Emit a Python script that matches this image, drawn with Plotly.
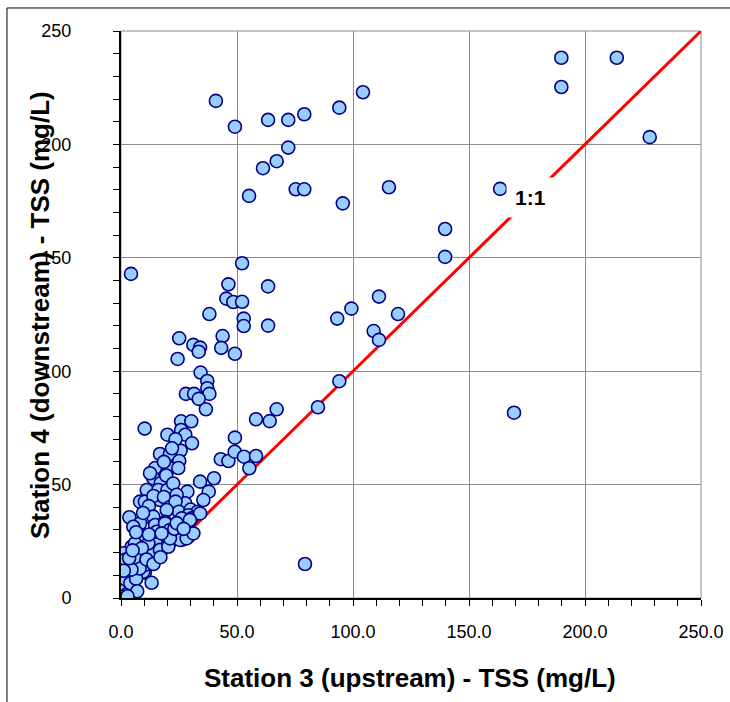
import plotly.graph_objects as go

# Station 3 (upstream) TSS, mg/L
station3 = [
    40.9, 49.1, 63.4, 72.1, 79.0, 94.1, 104.3, 72.1, 67.1, 61.2, 55.2, 75.3, 79.0, 95.6, 115.5,
    139.7, 139.7, 163.4, 189.8, 189.8, 213.7, 227.9, 169.4, 79.3, 4.3,
    52.2, 46.3, 45.4, 48.4, 52.2, 63.4, 38.1, 52.9, 52.9, 63.4, 43.8, 43.2, 49.1, 25.1, 31.2,
    34.1, 33.5, 24.4, 34.3, 37.2, 37.2, 38.1, 28.0, 31.5, 33.5, 36.6, 67.1, 58.2, 64.1, 84.9,
    94.1, 93.2, 99.3, 111.2, 108.9, 111.2, 119.4, 49.1,
    10.2, 20.0, 25.9, 30.3, 25.9, 27.7, 30.6, 25.7, 16.8, 21.1, 25.1, 14.7, 20.8, 24.7, 13.9,
    17.1, 11.1, 16.1, 20.0, 8.2, 10.3, 16.8, 28.6, 34.1, 40.1, 37.8, 35.5, 27.7, 43.0, 46.3,
    49.0, 53.0, 58.2, 55.3,
    23.5, 22.0, 18.5, 12.5, 19.5, 22.5, 14.0, 18.5, 24.0, 12.0, 21.0, 23.5, 25.0, 30.0, 33.0, 29.0,
    3.6, 26.2, 30.4, 19.7, 11.1, 13.9, 8.2, 5.3, 14.7, 19.0, 8.9, 19.4, 26.2, 29.0, 16.1, 20.4,
    12.5, 4.6, 7.5, 1.0, 2.5, 3.9, 10.3, 13.2, 5.3, 9.6, 5.3, 7.5, 3.1, 10.3, 13.9, 16.8, 20.4,
    25.4, 28.3, 31.2, 34.1, 29.7, 15.4, 19.0, 21.1, 6.0, 11.8, 21.1, 0.3, 1.0, 0.5, 1.5, 2.0,
    0.8, 2.2, 3.0, 4.0, 6.5, 8.0, 6.0, 9.0, 11.0, 14.0, 17.0, 12.0, 17.5, 23.0, 9.5, 6.5, 24.0,
    27.0, 2.0, 4.5, 7.0, 1.2, 3.5, 5.0, 0.5, 2.8,
]

# Station 4 (downstream) TSS, mg/L
station4 = [
    219.2, 207.8, 210.8, 210.8, 213.3, 216.2, 223.0, 198.6, 192.6, 189.5, 177.3, 180.2, 180.2, 174.0, 181.1,
    162.7, 150.4, 180.4, 238.2, 225.3, 238.2, 203.2, 81.7, 15.0, 142.9,
    147.6, 138.3, 132.0, 130.5, 130.6, 137.4, 125.2, 123.2, 119.9, 120.1, 115.5, 110.3, 107.7, 114.5, 111.6,
    110.4, 108.6, 105.4, 99.4, 95.7, 92.5, 90.0, 90.0, 90.0, 87.8, 83.2, 83.2, 78.8, 78.0, 84.1,
    95.6, 123.2, 127.6, 132.9, 117.7, 113.8, 125.2, 70.7,
    74.7, 72.0, 77.9, 77.9, 74.1, 72.0, 68.2, 65.0, 63.5, 63.5, 60.4, 57.3, 57.3, 57.3, 52.8,
    50.6, 47.6, 47.6, 47.6, 42.5, 42.5, 43.2, 46.9, 51.3, 52.8, 46.9, 43.2, 41.8, 61.2, 60.4,
    64.5, 62.3, 62.6, 57.2,
    70.0, 66.0, 60.0, 55.0, 54.0, 50.5, 45.0, 44.5, 45.5, 40.5, 40.0, 42.5, 38.0, 39.0, 38.0, 36.5,
    35.6, 35.1, 35.1, 38.8, 35.9, 35.9, 32.9, 31.4, 32.2, 33.6, 27.8, 27.8, 25.6, 27.0, 24.1, 24.1,
    19.0, 22.6, 20.4, 19.7, 14.6, 10.9, 11.2, 6.7, 3.5, 11.6, 5.0, 16.0, 13.8, 14.6, 19.7, 21.2, 22.6,
    25.6, 26.3, 28.5, 37.3, 34.4, 29.2, 32.9, 30.0, 24.1, 24.1, 26.3, 7.9, 2.8, 5.0, 1.5, 4.0,
    10.0, 8.0, 2.0, 6.5, 8.5, 13.0, 18.0, 22.0, 17.0, 15.0, 18.0, 28.0, 28.5, 30.5, 37.5, 29.0, 33.0,
    30.5, 17.0, 12.5, 3.0, 12.0, 17.5, 21.0, 0.5, 0.8,
]

one_to_one = [0, 250]
x_ticks = [0, 50, 100, 150, 200, 250]
x_tick_labels = ["0.0", "50.0", "100.0", "150.0", "200.0", "250.0"]
y_ticks = [0, 50, 100, 150, 200, 250]
y_tick_labels = ["0", "50", "100", "150", "200", "250"]

FONT = "Liberation Sans, Arial, sans-serif"

fig = go.Figure()
fig.add_trace(go.Scatter(
    x=one_to_one, y=one_to_one, mode="lines",
    line=dict(color="#FF0000", width=3), hoverinfo="skip", showlegend=False,
))
fig.add_trace(go.Scatter(
    x=station3, y=station4, mode="markers",
    marker=dict(size=13, color="#99CCFF", line=dict(color="#000080", width=1.6)),
    showlegend=False,
))

axis_common = dict(
    range=[0, 250], showgrid=True, gridcolor="#8C8C8C", gridwidth=1,
    showline=True, linecolor="black", linewidth=2, zeroline=False,
    ticks="outside", ticklen=6, tickwidth=1, tickcolor="black",
    minor=dict(ticks="outside", ticklen=6, tickwidth=1, tickcolor="black", dtick=10, showgrid=False),
    tickfont=dict(family=FONT, size=18, color="black"),
    ticklabeloverflow="allow",
    automargin=False,
    fixedrange=True,
)

fig.update_layout(
    width=730, height=702,
    margin=dict(l=121, r=29, t=31, b=104, autoexpand=False),
    paper_bgcolor="white", plot_bgcolor="white",
    xaxis=dict(**axis_common, tickvals=x_ticks, ticktext=x_tick_labels, ticklabelstandoff=10),
    yaxis=dict(**axis_common, tickvals=y_ticks, ticktext=y_tick_labels, ticklabelstandoff=38),
    annotations=[
        dict(x=176.5, y=176.5, xref="x", yref="y", text="<b>1:1</b>", showarrow=False,
             font=dict(family=FONT, size=21, color="black"), bgcolor="white", borderpad=8),
        dict(x=0.498, y=-0.141, xref="paper", yref="paper", text="<b>Station 3 (upstream) - TSS (mg/L)</b>",
             showarrow=False, xanchor="center", yanchor="middle",
             font=dict(family=FONT, size=26, color="black")),
        dict(x=-0.1397, y=0.499, xref="paper", yref="paper", text="<b>Station 4 (downstream) - TSS (mg/L)</b>",
             showarrow=False, xanchor="center", yanchor="middle", textangle=-90,
             font=dict(family=FONT, size=26, color="black")),
    ],
    shapes=[
        dict(type="rect", xref="paper", yref="paper", x0=0, y0=0, x1=1, y1=1,
             line=dict(color="#8C8C8C", width=1), layer="below"),
        dict(type="rect", xref="paper", yref="paper", x0=-0.1966, y0=-0.25, x1=1.2, y1=1.0406,
             line=dict(color="black", width=1), layer="above"),
    ],
)

fig.write_html(
    "out.html",
    config={"displayModeBar": False, "responsive": False},
    post_script="document.documentElement.style.overflow='hidden';"
                "document.body.style.margin='0';document.body.style.overflow='hidden';",
)
